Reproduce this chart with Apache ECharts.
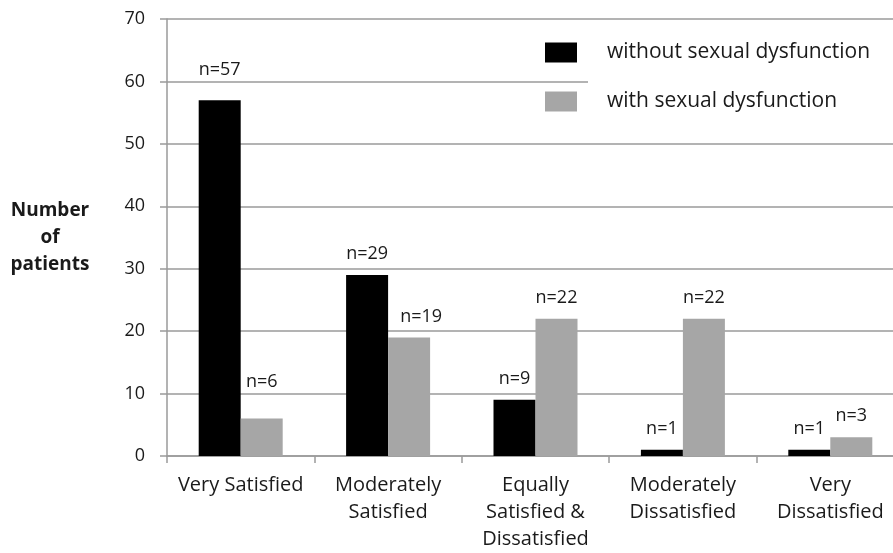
<!DOCTYPE html>
<html>
<head>
<meta charset="utf-8">
<script src="https://cdn.jsdelivr.net/npm/echarts@6/dist/echarts.min.js"></script>
<style>
  html, body { margin: 0; padding: 0; background: #fff; overflow: hidden; }
  #chart { width: 910px; height: 553px; }
</style>
</head>
<body>
<div id="chart"></div>
<script>
var categories = ['Very Satisfied', 'Moderately\nSatisfied', 'Equally\nSatisfied &\nDissatisfied', 'Moderately\nDissatisfied', 'Very\nDissatisfied'];
var seriesNames = ['without sexual dysfunction', 'with sexual dysfunction'];
var withoutDys = [57, 29, 9, 1, 1];
var withDys = [6, 19, 22, 22, 3];
var yTicks = [0, 70, 10];

// hand placed labels in the original
var nudgeWithout = { 0: [0, -9] };
var nudgeWith = { 0: [0, -16], 1: [12, 0] };

function items(values, nudge) {
    return values.map(function (v, i) {
        var it = { value: v };
        if (nudge[i]) it.label = { offset: nudge[i] };
        return it;
    });
}

var font = 'Open Sans';
var chart = echarts.init(document.getElementById('chart'));
var barLabel = {
    show: true,
    position: 'top',
    distance: 12,
    fontFamily: font,
    fontSize: 18,
    color: '#1a1a1a',
    formatter: 'n={c}'
};

var option = {
    backgroundColor: '#fff',
    animation: false,
    grid: { left: 167, top: 19, width: 737, height: 439 },
    legend: {
        orient: 'vertical',
        left: 540,
        top: 37,
        icon: 'rect',
        itemWidth: 32,
        itemHeight: 20,
        itemGap: 28,
        textStyle: { fontFamily: font, fontSize: 21, color: '#1a1a1a', padding: [0, 0, 0, 25] },
        data: seriesNames
    },
    graphic: [{
        type: 'rect',
        z: 1,
        shape: { x: 588, y: 24, width: 330, height: 110 },
        style: { fill: '#fff' }
    }],
    xAxis: {
        type: 'category',
        data: categories,
        axisLine: { lineStyle: { color: '#9a9a9a', width: 1.5 } },
        axisTick: { show: true, length: 7, lineStyle: { color: '#9a9a9a', width: 1.5 } },
        axisLabel: { fontFamily: font, fontSize: 20, color: '#1a1a1a', lineHeight: 27, margin: 16, interval: 0 }
    },
    yAxis: {
        type: 'value',
        min: yTicks[0],
        max: yTicks[1],
        interval: yTicks[2],
        name: 'Number\nof\npatients',
        nameLocation: 'middle',
        nameRotate: 0,
        nameGap: 117,
        nameTextStyle: { fontFamily: font, fontSize: 19, fontWeight: 'bold', color: '#1a1a1a', lineHeight: 27, align: 'center', padding: [0, 0, 20, 0] },
        axisLine: { show: true, lineStyle: { color: '#9a9a9a', width: 1.5 } },
        axisTick: { show: true, length: 7, lineStyle: { color: '#9a9a9a', width: 1.5 } },
        splitLine: { lineStyle: { color: '#9a9a9a', width: 1.5 } },
        axisLabel: { fontFamily: font, fontSize: 18, color: '#1a1a1a', margin: 22 }
    },
    series: [
        {
            name: seriesNames[0],
            type: 'bar',
            barWidth: 42,
            barGap: '0%',
            itemStyle: { color: '#000' },
            label: barLabel,
            data: items(withoutDys, nudgeWithout)
        },
        {
            name: seriesNames[1],
            type: 'bar',
            barWidth: 42,
            barGap: '0%',
            itemStyle: { color: '#a6a6a6' },
            label: barLabel,
            data: items(withDys, nudgeWith)
        }
    ]
};
chart.setOption(option);
</script>
</body>
</html>
